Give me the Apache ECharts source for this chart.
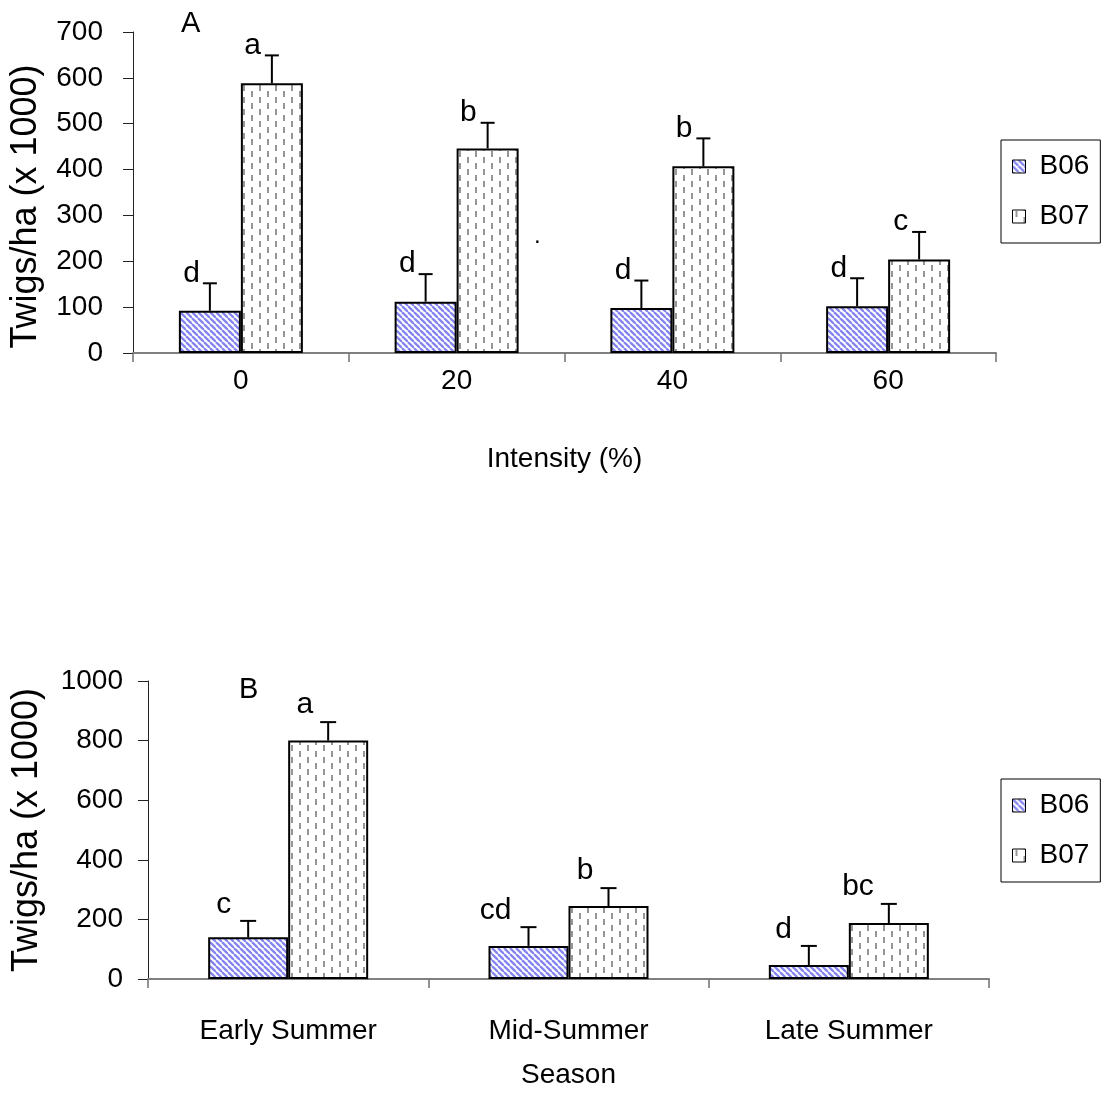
<!DOCTYPE html>
<html><head><meta charset="utf-8">
<script src="https://cdn.jsdelivr.net/npm/echarts@6/dist/echarts.min.js"></script>
<style>html,body{margin:0;padding:0;background:#fff}#c{width:1109px;height:1099px}</style>
</head><body><div id="c"></div>
<script>
// ---------- data ----------
const seriesNames = ['B06', 'B07'];
const intensityCats = ['0', '20', '40', '60'];
const intensityB06 = [92, 112, 98, 102];
const intensityB06Err = [60, 60, 60, 61];
const intensityB07 = [588, 446, 407, 204];
const intensityB07Err = [61, 56, 61, 60];
const intensityB06Letters = ['d', 'd', 'd', 'd'];
const intensityB07Letters = ['a', 'b', 'b', 'c'];
const seasonCats = ['Early Summer', 'Mid-Summer', 'Late Summer'];
const seasonB06 = [140, 111, 47];
const seasonB06Err = [55, 63, 64];
const seasonB07 = [800, 245, 188];
const seasonB07Err = [62, 60, 64];
const seasonB06Letters = ['c', 'cd', 'd'];
const seasonB07Letters = ['a', 'b', 'bc'];
const yAxisA = { min: 0, max: 700, interval: 100 };
const yAxisB = { min: 0, max: 1000, interval: 200 };
const yTitle = 'Twigs/ha (x 1000)';
const xTitleA = 'Intensity (%)';
const xTitleB = 'Season';

// ---------- patterns ----------
const FONT = '"Liberation Sans", Arial, sans-serif';
function stripePattern() {
  const s = 6, c = document.createElement('canvas');
  c.width = s; c.height = s;
  const g = c.getContext('2d');
  g.fillStyle = '#fff'; g.fillRect(0, 0, s, s);
  g.strokeStyle = '#8585f0'; g.lineWidth = 2.3;
  for (let i = -1; i <= 1; i++) { g.beginPath(); g.moveTo(i * s, 0); g.lineTo(i * s + s, s); g.stroke(); }
  return c;
}
function dashPattern() {
  const w = 16, h = 12, c = document.createElement('canvas');
  c.width = w; c.height = h;
  const g = c.getContext('2d');
  g.fillStyle = '#fff'; g.fillRect(0, 0, w, h);
  g.strokeStyle = '#8c8c8c'; g.lineWidth = 1.8;
  g.beginPath(); g.moveTo(4, 1); g.lineTo(4, 7); g.stroke();
  g.beginPath(); g.moveTo(12, 7); g.lineTo(12, 12); g.moveTo(12, 0); g.lineTo(12, 1); g.stroke();
  return c;
}
const fillB06 = { image: stripePattern(), repeat: 'repeat' };
const fillB07 = { image: dashPattern(), repeat: 'repeat' };

function barSeries(name, fill, data, xi, yi, width) {
  return {
    type: 'bar', name: name, data: data, xAxisIndex: xi, yAxisIndex: yi,
    barWidth: width, barGap: '0%',
    itemStyle: { color: fill, borderColor: '#000', borderWidth: 2 },
    emphasis: { disabled: true }, z: 2
  };
}
function errSeries(vals, errs, letters, xi, yi, side, halfBar, capHalf, dx, dy) {
  return {
    type: 'custom', xAxisIndex: xi, yAxisIndex: yi, silent: true, z: 5,
    data: vals.map((v, i) => [i, v, v + errs[i]]),
    encode: { x: 0, y: [1, 2] },
    renderItem: function (params, api) {
      const i = api.value(0);
      const p0 = api.coord([i, api.value(1)]);
      const p1 = api.coord([i, api.value(2)]);
      const x = p0[0] + side * halfBar;
      return {
        type: 'group', children: [
          { type: 'line', shape: { x1: x, y1: p0[1], x2: x, y2: p1[1] }, style: { stroke: '#000', lineWidth: 2 } },
          { type: 'line', shape: { x1: x - capHalf, y1: p1[1], x2: x + capHalf, y2: p1[1] }, style: { stroke: '#000', lineWidth: 2 } },
          { type: 'text', style: { text: letters[params.dataIndex], x: x - dx, y: p1[1] + dy, align: 'right', verticalAlign: 'bottom', fontSize: 30, fontFamily: FONT, fill: '#000' } }
        ]
      };
    }
  };
}

const axisLabelStyle = { color: '#000', fontSize: 28, fontFamily: FONT };
function yAxis(gi, range, margin, nameGap, namePad) {
  return {
    type: 'value', gridIndex: gi, min: range.min, max: range.max, interval: range.interval,
    splitLine: { show: false },
    axisLine: { show: true, lineStyle: { color: '#222', width: 1 } },
    axisTick: { show: true, inside: false, length: 10, lineStyle: { color: '#222' } },
    axisLabel: Object.assign({ margin: margin, formatter: function (v) { return String(v); } }, axisLabelStyle),
    name: yTitle, nameLocation: 'middle', nameGap: nameGap,
    nameTextStyle: { color: '#000', fontSize: 36, fontFamily: FONT, padding: namePad }
  };
}
function xAxis(gi, cats, margin, name, nameGap, fs) {
  return {
    type: 'category', gridIndex: gi, data: cats, boundaryGap: true,
    axisLine: { show: true, lineStyle: { color: '#808080', width: 2 } },
    axisTick: { show: true, inside: false, length: 9, alignWithLabel: false, lineStyle: { color: '#707070', width: 1.5 } },
    axisLabel: { margin: margin, color: '#000', fontSize: fs, fontFamily: FONT, interval: 0 },
    name: name, nameLocation: 'middle', nameGap: nameGap,
    nameTextStyle: { color: '#000', fontSize: 28, fontFamily: FONT }
  };
}
function legend(top) {
  return {
    orient: 'vertical', left: 1001, top: top, data: seriesNames,
    padding: [12, 11, 12, 11], borderColor: '#000', borderWidth: 1,
    itemWidth: 13, itemHeight: 13, itemGap: 21, selectedMode: false,
    icon: 'rect',
    itemStyle: { borderWidth: 1, borderColor: '#000' },
    textStyle: { color: '#000', fontSize: 28, fontFamily: FONT, lineHeight: 29, padding: [0, 0, 0, 9] }
  };
}

const chart = echarts.init(document.getElementById('c'), null, { renderer: 'canvas' });
chart.setOption({
  animation: false,
  backgroundColor: '#fff',
  grid: [
    { left: 132, right: 113, top: 32, bottom: 746 },
    { left: 148, right: 120, top: 681, bottom: 120 }
  ],
  xAxis: [
    xAxis(0, intensityCats, 14, xTitleA, 92, 28),
    xAxis(1, seasonCats, 38, xTitleB, 82, 28)
  ],
  yAxis: [
    yAxis(0, yAxisA, 30, 89, [0, 28, 0, 0]),
    yAxis(1, yAxisB, 25, 103, [0, 0, 0, 0])
  ],
  legend: [legend(140), legend(779)],
  graphic: [
    { type: 'text', left: 181, top: 9, style: { text: 'A', fontSize: 29, fontFamily: FONT, fill: '#000' } },
    { type: 'text', left: 239, top: 675, style: { text: 'B', fontSize: 29, fontFamily: FONT, fill: '#000' } },
    { type: 'text', left: 534, top: 224, style: { text: '.', fontSize: 24, fontFamily: FONT, fill: '#000' } }
  ],
  series: [
    barSeries('B06', fillB06, intensityB06, 0, 0, 62),
    barSeries('B07', fillB07, intensityB07, 0, 0, 62),
    errSeries(intensityB06, intensityB06Err, intensityB06Letters, 0, 0, -1, 31, 7, 10, 5),
    errSeries(intensityB07, intensityB07Err, intensityB07Letters, 0, 0, 1, 31, 7, 11, 5),
    barSeries('B06', fillB06, seasonB06, 1, 1, 80),
    barSeries('B07', fillB07, seasonB07, 1, 1, 80),
    errSeries(seasonB06, seasonB06Err, seasonB06Letters, 1, 1, -1, 40, 8, 17, -1),
    errSeries(seasonB07, seasonB07Err, seasonB07Letters, 1, 1, 1, 40, 8, 15, -2)
  ]
});
</script></body></html>
